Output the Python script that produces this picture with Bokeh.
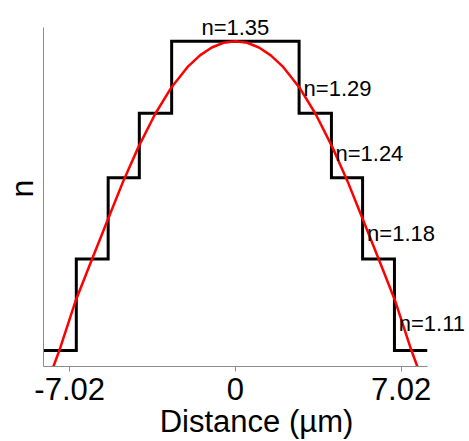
import numpy as np
from bokeh.plotting import figure
from bokeh.models import Range1d, FixedTicker, Label
from bokeh.embed import file_html
from bokeh.resources import INLINE

# ---- data ----
# step-index profile: boundaries (µm) and index levels
step_edges = [-8.13, -6.74, -5.39, -4.07, -2.70, 2.70, 4.07, 5.39, 6.74, 8.13]
step_levels = [1.110, 1.181, 1.244, 1.294, 1.350, 1.294, 1.244, 1.181, 1.110]

# graded (red) profile
curve_x = [-7.90, -7.71, -7.46, -6.78, -6.10, -5.42, -4.75, -4.11, -3.40, -2.71,
           -2.00, -1.50, -1.00, -0.50, 0.00, 0.50, 1.00, 1.50, 2.00, 2.71,
           3.40, 4.11, 4.75, 5.42, 6.10, 6.78, 7.46, 7.71, 7.90]
curve_n = [1.0879, 1.0976, 1.1100, 1.1480, 1.1797, 1.2109, 1.2414, 1.2678, 1.2935, 1.3141,
           1.3305, 1.3390, 1.3451, 1.3488, 1.3500, 1.3488, 1.3451, 1.3390, 1.3305, 1.3141,
           1.2935, 1.2678, 1.2414, 1.2109, 1.1797, 1.1480, 1.1100, 1.0976, 1.0879]

# annotations
label_text = ["n=1.35", "n=1.29", "n=1.24", "n=1.18", "n=1.11"]
label_x = [0.0, 2.89, 4.24, 5.58, 6.92]
label_y = [1.3609, 1.3131, 1.2626, 1.2006, 1.1308]
label_align = ["center", "left", "left", "left", "left"]

tick_values = [-7.02, 0.0, 7.02]
tick_labels = ["-7.02", "0", "7.02"]

# axis extents (drawn axis lines) and the visible area (room for the labels)
x_axis_bounds = (-8.13, 8.13)
y_axis_bounds = (1.0976, 1.3606)
x_view = (-8.13, 9.92)
y_view = (1.0976, 1.3738)

FONT = "Liberation Sans"
AXIS_GREY = "#8c8c8c"

p = figure(width=469, height=441, output_backend="svg", toolbar_location=None,
           x_range=Range1d(*x_view), y_range=Range1d(*y_view),
           min_border_left=43, min_border_right=0, min_border_top=10, min_border_bottom=75)
p.outline_line_color = None
p.grid.visible = False
p.background_fill_color = "white"
p.border_fill_color = "white"

# step profile
sx = np.repeat(step_edges, 2)[1:-1]
sy = np.repeat(step_levels, 2)
p.line(sx, sy, line_color="black", line_width=3, line_join="miter")

# graded profile
p.line(curve_x, curve_n, line_color="red", line_width=2.5)

for t, lx, ly, la in zip(label_text, label_x, label_y, label_align):
    p.add_layout(Label(x=lx, y=ly, text=t, text_align=la, text_baseline="alphabetic",
                       text_font=FONT, text_font_size="22px", text_color="black"))

# x axis
xa = p.xaxis[0]
xa.bounds = x_axis_bounds
xa.ticker = FixedTicker(ticks=tick_values)
xa.major_label_overrides = {v: t for v, t in zip(tick_values, tick_labels)}
xa.minor_tick_line_color = None
xa.major_tick_in = 0
xa.major_tick_out = 5
xa.major_tick_line_color = AXIS_GREY
xa.axis_line_color = AXIS_GREY
xa.major_label_text_font = FONT
xa.major_label_text_font_size = "31px"
xa.major_label_text_color = "black"
xa.major_label_standoff = 6
xa.axis_label = "Distance (µm)"
xa.axis_label_text_font = FONT
xa.axis_label_text_font_size = "31px"
xa.axis_label_text_font_style = "normal"
xa.axis_label_text_color = "black"
xa.axis_label_standoff = 1

# y axis
ya = p.yaxis[0]
ya.bounds = y_axis_bounds
ya.ticker = FixedTicker(ticks=[])
ya.minor_tick_line_color = None
ya.major_tick_line_color = None
ya.major_tick_in = 0
ya.major_tick_out = 0
ya.major_label_text_font_size = "0px"
ya.axis_line_color = AXIS_GREY
ya.axis_label = "n"
ya.axis_label_text_font = FONT
ya.axis_label_text_font_size = "32px"
ya.axis_label_text_font_style = "normal"
ya.axis_label_text_color = "black"
ya.axis_label_standoff = 4

open("out.html", "w").write(file_html(p, INLINE))
